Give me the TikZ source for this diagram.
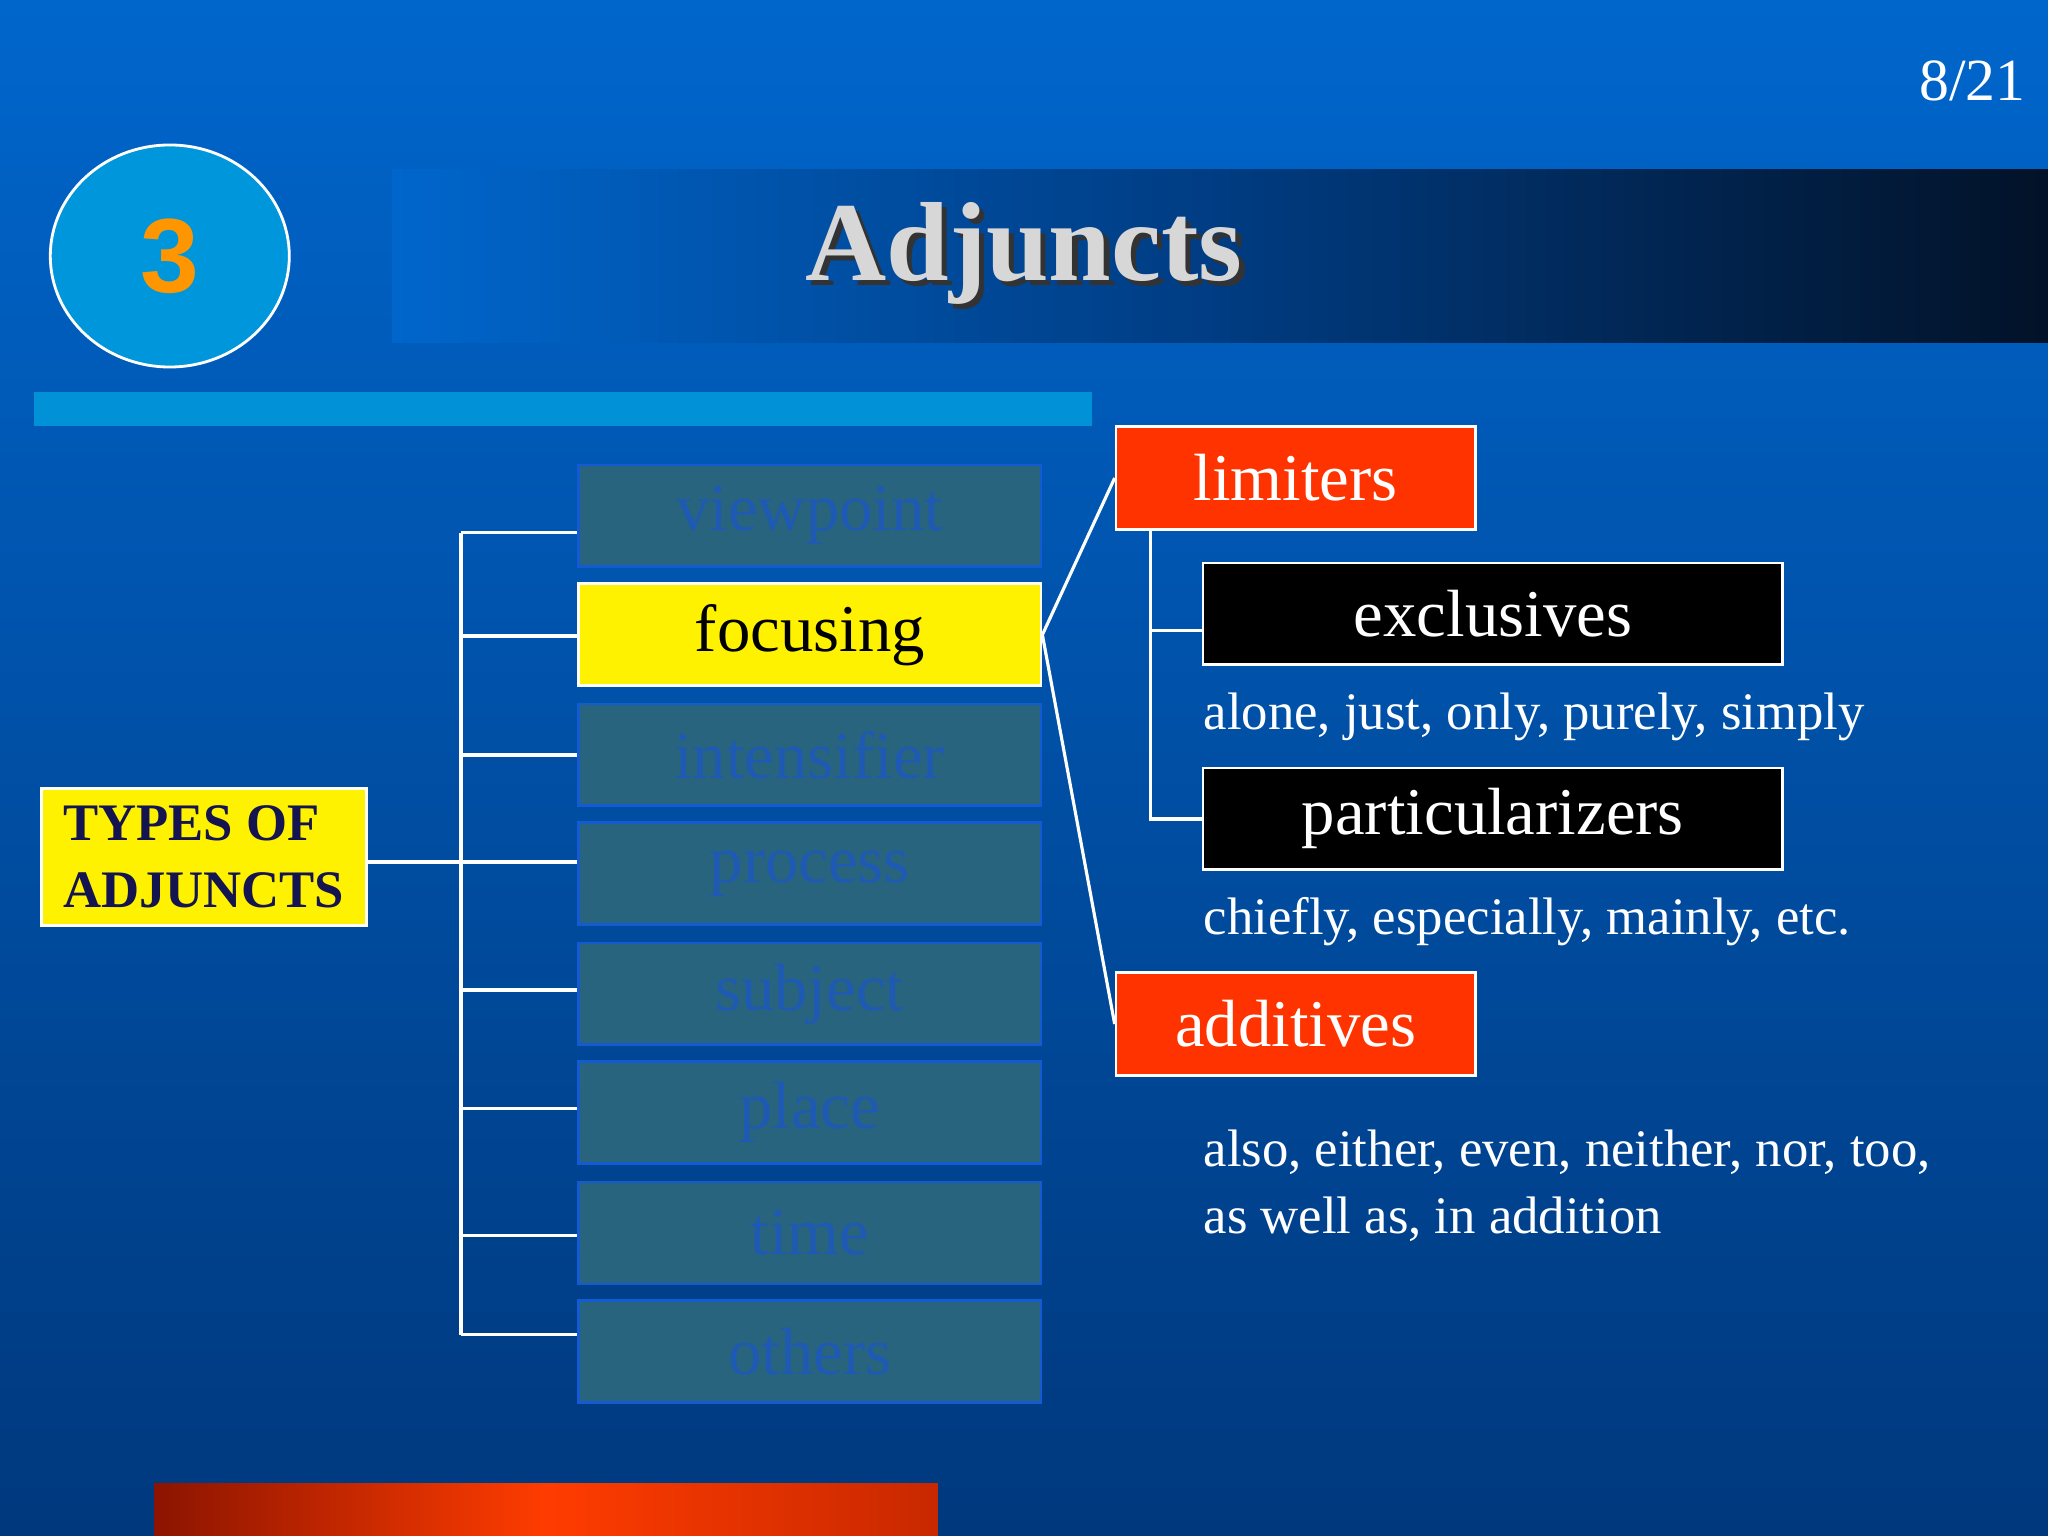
\documentclass[tikz,border=0pt]{standalone}
\usetikzlibrary{shapes.geometric}
\usepackage{fontspec}
\setmainfont{Liberation Serif}
\newfontfamily\sansf{Liberation Sans}
\definecolor{bgtop}{RGB}{0,102,204}
\definecolor{bgbot}{RGB}{0,56,125}
\definecolor{bandend}{RGB}{2,18,40}
\definecolor{bandmid}{RGB}{0,60,130}
\definecolor{typefill}{RGB}{40,100,125}
\definecolor{typetext}{RGB}{30,90,180}
\definecolor{typedraw}{RGB}{20,90,210}
\definecolor{redfill}{RGB}{255,51,0}
\definecolor{circfill}{RGB}{0,150,220}
\definecolor{numcol}{RGB}{255,150,0}
\definecolor{titlecol}{RGB}{215,215,215}
\definecolor{barcol}{RGB}{0,145,215}
\definecolor{bbl}{RGB}{140,20,0}
\definecolor{bbr}{RGB}{200,40,0}
\definecolor{bbm}{RGB}{255,60,0}
\definecolor{navytext}{RGB}{20,20,80}
\begin{document}
\begin{tikzpicture}[x=0.013061cm,y=-0.013061cm,
 ln/.style={white,line width=0.9pt},
 typebox/.style={draw=typedraw,line width=0.8pt,fill=typefill,text=typetext,font=\fontsize{19}{22}\selectfont,minimum width=354*0.013061cm,minimum height=78*0.013061cm,inner sep=0pt},
 redbox/.style={draw=white,line width=0.8pt,fill=redfill,text=white,font=\fontsize{19}{22}\selectfont,minimum width=275*0.013061cm,minimum height=79*0.013061cm,inner sep=0pt},
 blackbox/.style={draw=white,line width=0.8pt,fill=black,text=white,font=\fontsize{19}{22}\selectfont,minimum width=444*0.013061cm,minimum height=78*0.013061cm,inner sep=0pt},
 ex/.style={text=white,font=\fontsize{15}{20}\selectfont,anchor=west,inner sep=0pt,align=left}]
\shade[top color=bgtop,bottom color=bgbot] (0,0) rectangle (1568,1176);
\useasboundingbox (0,0) rectangle (1568,1176);
\shade[left color=bgtop,right color=bandend,middle color=bandmid] (300,130) rectangle (1568,262);
\node[text=white,font=\fontsize{17}{20}\selectfont] (pg) at (1510,62) {8/21};
\node[ellipse,draw=white,line width=0.8pt,fill=circfill,minimum width=183*0.013061cm,minimum height=170*0.013061cm,inner sep=0pt,text=numcol,font=\sansf\bfseries\fontsize{30}{32}\selectfont] (num) at (130,196) {3};
\node[text=black!80,font=\bfseries\fontsize{32}{36}\selectfont] at (788,198) {Adjuncts};
\node[text=titlecol,font=\bfseries\fontsize{32}{36}\selectfont] (title) at (784,194) {Adjuncts};
\fill[barcol] (26,300) rectangle (836,326);
\shade[left color=bbl,right color=bbr,middle color=bbm] (118,1136) rectangle (718,1176);
\node[draw=white,line width=0.8pt,fill=yellow,text=navytext,font=\bfseries\fontsize{15}{19}\selectfont,align=left,minimum width=249*0.013061cm,minimum height=105*0.013061cm,inner sep=0pt] (types) at (156,656) {TYPES OF\\ADJUNCTS};
\node[typebox] (b1) at (620,395) {viewpoint};
\node[typebox,fill=yellow,text=black,draw=white] (b2) at (620,486) {focusing};
\node[typebox] (b3) at (620,578) {intensifier};
\node[typebox] (b4) at (620,669) {process};
\node[typebox] (b5) at (620,761) {subject};
\node[typebox] (b6) at (620,852) {place};
\node[typebox] (b7) at (620,944) {time};
\node[typebox] (b8) at (620,1035) {others};
\coordinate (tr1) at (353,408);
\coordinate (tr2) at (353,1022);
\coordinate (trm) at (353,660);
\draw[ln] (tr1) -- (tr2);
\draw[ln] (types.east |- trm) -- (trm);
\foreach \i/\y in {1/408,2/487,3/578,4/660,5/758,6/849,7/946,8/1022}
  \draw[ln] (353,\y) -- (b\i.west |- 0,\y);
\node[redbox] (lim) at (992,366) {limiters};
\node[redbox] (add) at (992,784) {additives};
\draw[ln] (b2.east) -- (lim.west);
\draw[ln] (b2.east) -- (add.west);
\node[blackbox] (exc) at (1143,470) {exclusives};
\node[blackbox] (par) at (1143,627) {particularizers};
\coordinate (lt) at (881,405);
\coordinate (lb) at (881,627);
\draw[ln] (lt) -- (lb) -- (par.west);
\draw[ln] (881,483) -- (exc.west |- 0,483);
\node[ex] (e1) at (921,549) {alone, just, only, purely, simply};
\node[ex] (e2) at (921,706) {chiefly, especially, mainly, etc.};
\node[ex,font=\fontsize{15}{19}\selectfont] (e3) at (921,908) {also, either, even, neither, nor, too,\\as well as, in addition};
\end{tikzpicture}
\end{document}
